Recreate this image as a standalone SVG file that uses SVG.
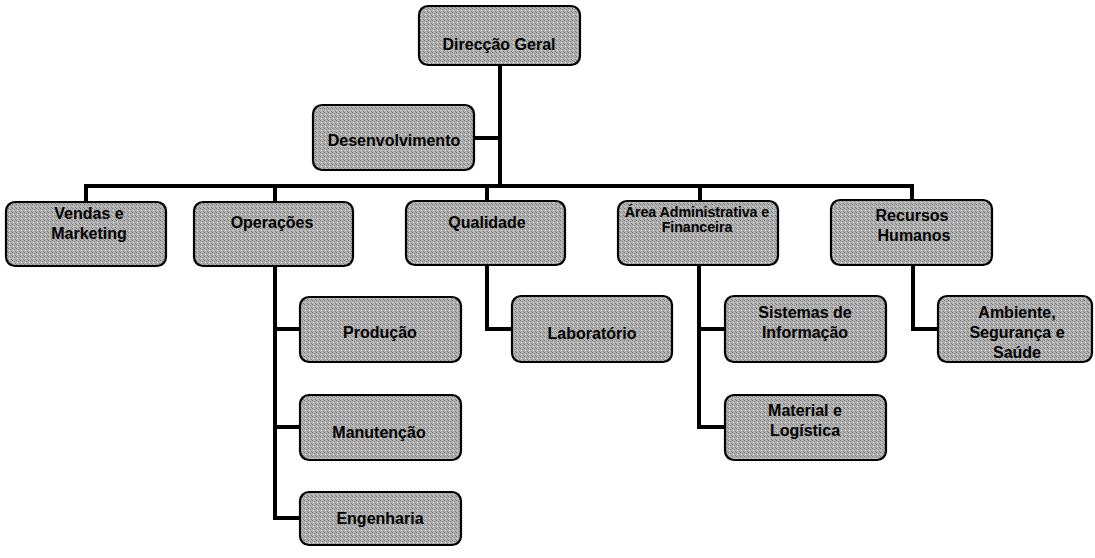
<svg xmlns="http://www.w3.org/2000/svg" width="1095" height="558" viewBox="0 0 1095 558">
  <defs>
    <!-- dithered grey fill for the boxes -->
    <pattern id="dither" width="4" height="4" patternUnits="userSpaceOnUse">
      <rect width="4" height="4" fill="#b2b2b2"/>
      <rect x="0" y="0" width="1" height="1" fill="#767676"/>
      <rect x="2" y="1" width="1" height="1" fill="#888888"/>
      <rect x="1" y="2" width="1" height="1" fill="#d0d0d0"/>
      <rect x="3" y="3" width="1" height="1" fill="#7c7c7c"/>
    </pattern>
    <style>
      .box { fill: url(#dither); stroke: #000; stroke-width: 2.2; }
      .lbl { font-family: "Liberation Sans", Arial, sans-serif; font-weight: bold; font-size: 16px; fill: #000; text-anchor: middle; }
      .sm { font-size: 14.3px; letter-spacing: -0.1px; }
      .wire { fill: none; stroke: #000; stroke-width: 4; stroke-linecap: square; stroke-linejoin: miter; }
    </style>
  </defs>

  <rect width="1095" height="558" fill="#fff"/>

  <!-- connectors -->
  <g id="connectors" class="wire">
    <path d="M500 65 V186"/>
    <path d="M474 138 H500"/>
    <path d="M86 202 V186 H912 V200"/>
    <path d="M275 186 V202"/>
    <path d="M487 186 V201"/>
    <path d="M700 186 V201"/>
    <path d="M275 266 V518 H300"/>
    <path d="M275 329 H300"/>
    <path d="M275 427 H300"/>
    <path d="M487 265 V329 H512"/>
    <path d="M699 265 V427 H725"/>
    <path d="M699 329 H725"/>
    <path d="M913 265 V329 H938"/>
  </g>

  <g id="direccao-geral">
    <rect class="box" x="419" y="6" width="161" height="59" rx="9"/>
    <text class="lbl" x="499" y="50">Direcção Geral</text>
  </g>

  <g id="desenvolvimento">
    <rect class="box" x="313" y="105" width="161" height="65" rx="9"/>
    <text class="lbl" x="394" y="146">Desenvolvimento</text>
  </g>

  <g id="vendas-marketing">
    <rect class="box" x="6" y="202" width="160" height="64" rx="9"/>
    <text class="lbl" x="89" y="219">Vendas e</text>
    <text class="lbl" x="89" y="239">Marketing</text>
  </g>

  <g id="operacoes">
    <rect class="box" x="194" y="202" width="159" height="64" rx="9"/>
    <text class="lbl" x="272" y="228">Operações</text>
  </g>

  <g id="qualidade">
    <rect class="box" x="406" y="201" width="159" height="64" rx="9"/>
    <text class="lbl" x="487" y="228">Qualidade</text>
  </g>

  <g id="area-administrativa">
    <rect class="box" x="618" y="201" width="160" height="64" rx="9"/>
    <text class="lbl sm" x="697" y="217">Área Administrativa e</text>
    <text class="lbl sm" x="697" y="232">Financeira</text>
  </g>

  <g id="recursos-humanos">
    <rect class="box" x="831" y="200" width="161" height="65" rx="9"/>
    <text class="lbl" x="912" y="221">Recursos</text>
    <text class="lbl" x="914" y="241">Humanos</text>
  </g>

  <g id="producao">
    <rect class="box" x="300" y="297" width="161" height="65" rx="9"/>
    <text class="lbl" x="380" y="338">Produção</text>
  </g>

  <g id="manutencao">
    <rect class="box" x="300" y="395" width="161" height="65" rx="9"/>
    <text class="lbl" x="379" y="438">Manutenção</text>
  </g>

  <g id="engenharia">
    <rect class="box" x="300" y="492" width="161" height="53" rx="9"/>
    <text class="lbl" x="380" y="524">Engenharia</text>
  </g>

  <g id="laboratorio">
    <rect class="box" x="512" y="296" width="160" height="66" rx="9"/>
    <text class="lbl" x="592" y="339">Laboratório</text>
  </g>

  <g id="sistemas-informacao">
    <rect class="box" x="725" y="296" width="161" height="66" rx="9"/>
    <text class="lbl" x="805" y="318">Sistemas de</text>
    <text class="lbl" x="805" y="338">Informação</text>
  </g>

  <g id="material-logistica">
    <rect class="box" x="725" y="395" width="161" height="65" rx="9"/>
    <text class="lbl" x="805" y="416">Material e</text>
    <text class="lbl" x="805" y="436">Logística</text>
  </g>

  <g id="ambiente-seguranca-saude">
    <rect class="box" x="938" y="296" width="154" height="66" rx="9"/>
    <text class="lbl" x="1017" y="318">Ambiente,</text>
    <text class="lbl" x="1017" y="338">Segurança e</text>
    <text class="lbl" x="1017" y="358">Saúde</text>
  </g>
</svg>
